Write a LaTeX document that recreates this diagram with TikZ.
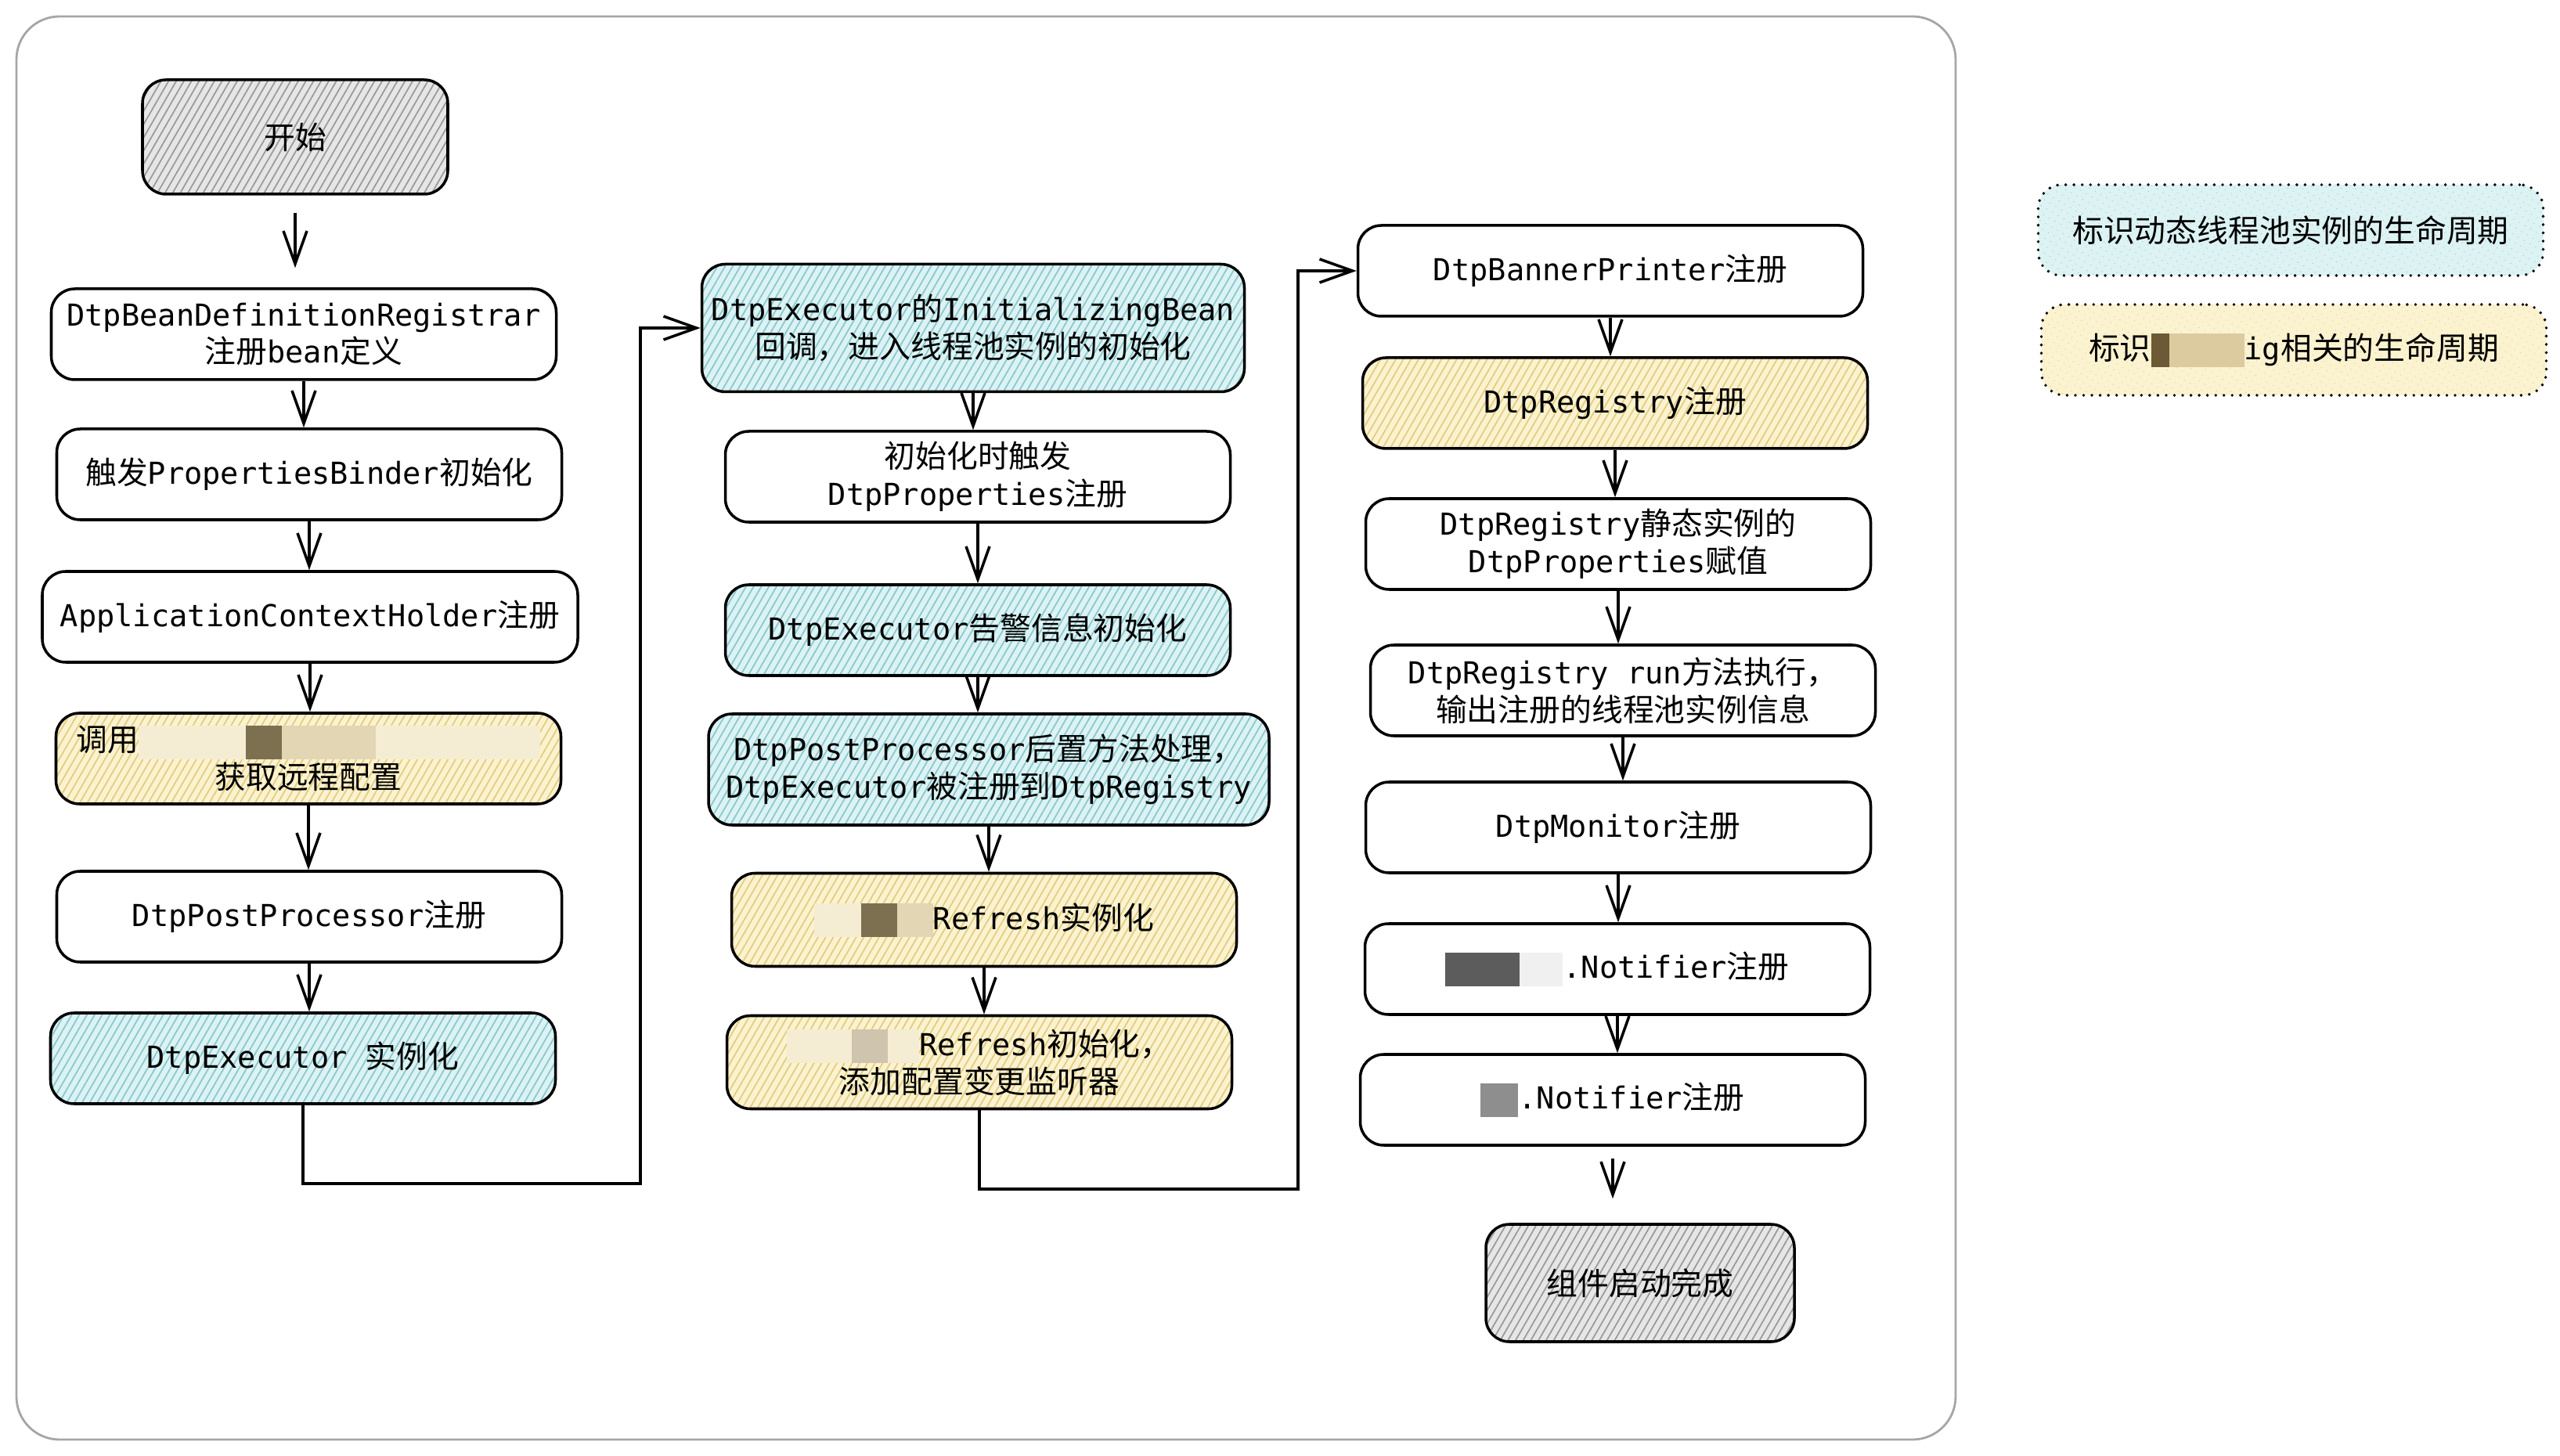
\documentclass[tikz,border=0pt]{standalone}
\usepackage{fontspec}
\setmainfont{DejaVu Sans Mono}
\newfontfamily\zhfont[Scale=1.03]{Noto Sans CJK SC}
\newcommand\zh[1]{{\zhfont #1}}
\newcommand\blotch[2]{{\color{#1}\rule[-0.25em]{#2}{1.1em}}}
\usepackage{tikz}
\usetikzlibrary{positioning, arrows.meta, patterns.meta}
\definecolor{bluebg}{HTML}{DDF2F3}
\definecolor{blueln}{HTML}{86C9CF}
\definecolor{yelbg}{HTML}{FBF2D0}
\definecolor{yelln}{HTML}{E3CD7E}
\definecolor{greybg}{HTML}{E6E6E6}
\definecolor{greyln}{HTML}{9A9A9A}
\definecolor{blurpale}{HTML}{F5EDD3}
\definecolor{blurmid}{HTML}{E2D6B4}
\definecolor{blurdark}{HTML}{7C7050}
\definecolor{blurgrey}{HTML}{CFC4AE}
\definecolor{blurink}{HTML}{5C5C5C}
\definecolor{blurlight}{HTML}{F0F0F0}
\definecolor{blurstone}{HTML}{8E8E8E}
\definecolor{blurbrown}{HTML}{6B5A35}
\definecolor{blursand}{HTML}{DCCB9F}

\begin{document}
\begin{tikzpicture}[
  box/.style={draw, line width=1pt, rounded corners=0.3cm, align=center,
    minimum width=6.45cm, minimum height=1.16cm, inner sep=2pt,
    font=\fontsize{11pt}{13.6pt}\selectfont},
  bluebox/.style={box, preaction={fill=bluebg},
    pattern={Lines[angle=60,distance=2.4pt,line width=.5pt]}, pattern color=blueln},
  yellowbox/.style={box, preaction={fill=yelbg},
    pattern={Lines[angle=60,distance=2.4pt,line width=.5pt]}, pattern color=yelln},
  greybox/.style={box, preaction={fill=greybg},
    pattern={Lines[angle=60,distance=2.4pt,line width=.5pt]}, pattern color=greyln},
  legendbox/.style={box, line width=1.1pt, line cap=round, dash pattern=on 0pt off 3pt},
  flow/.style={line width=1pt, -{Straight Barb[length=0.42cm,width=0.3cm]}}
]
  \useasboundingbox (0,0) rectangle (32.7,-18.6);
  \draw[gray!70, line width=0.8pt, rounded corners=0.55cm] (0.21,-0.21) rectangle (24.98,-18.39);

  % first column
  \node[greybox, minimum width=3.9cm, minimum height=1.46cm] (start) at (3.77,-1.75) {\zh{开始}};
  \node[box] (reg) at (3.88,-4.27) {DtpBeanDefinitionRegistrar\\\zh{注册}bean\zh{定义}};
  \node[box] (binder) at (3.95,-6.06) {\zh{触发}PropertiesBinder\zh{初始化}};
  \node[box, minimum width=6.84cm] (holder) at (3.96,-7.88) {ApplicationContextHolder\zh{注册}};
  \node[yellowbox] (remote) at (3.94,-9.69)
    {\zh{调用}\blotch{blurpale}{1.37cm}\blotch{blurdark}{0.46cm}\blotch{blurmid}{1.2cm}\blotch{blurpale}{2.1cm}\\\zh{获取远程配置}};
  \node[box] (postreg) at (3.95,-11.71) {DtpPostProcessor\zh{注册}};
  \node[bluebox] (exec) at (3.87,-13.52) {DtpExecutor \zh{实例化}};

  % second column
  \node[bluebox, minimum width=6.93cm, minimum height=1.63cm] (init) at (12.43,-4.19)
    {DtpExecutor\zh{的}InitializingBean\\\zh{回调，进入线程池实例的初始化}};
  \node[box] (props) at (12.49,-6.09) {\zh{初始化时触发}\\DtpProperties\zh{注册}};
  \node[bluebox] (alarm) at (12.49,-8.05) {DtpExecutor\zh{告警信息初始化}};
  \node[bluebox, minimum width=7.16cm, minimum height=1.42cm] (postproc) at (12.63,-9.83)
    {DtpPostProcessor\zh{后置方法处理，}\\DtpExecutor\zh{被注册到}DtpRegistry};
  \node[yellowbox, minimum height=1.19cm] (refresh) at (12.57,-11.75)
    {\blotch{blurpale}{0.6cm}\blotch{blurdark}{0.46cm}\blotch{blurmid}{0.46cm}Refresh\zh{实例化}};
  \node[yellowbox, minimum height=1.19cm] (listen) at (12.51,-13.57)
    {\blotch{blurpale}{0.83cm}\blotch{blurgrey}{0.46cm}\blotch{blurpale}{0.4cm}Refresh\zh{初始化，}\\\zh{添加配置变更监听器}};

  % third column
  \node[box] (banner) at (20.57,-3.46) {DtpBannerPrinter\zh{注册}};
  \node[yellowbox] (dreg) at (20.63,-5.15) {DtpRegistry\zh{注册}};
  \node[box] (dstatic) at (20.67,-6.95) {DtpRegistry\zh{静态实例的}\\DtpProperties\zh{赋值}};
  \node[box] (drun) at (20.73,-8.82) {DtpRegistry run\zh{方法执行，}\\\zh{输出注册的线程池实例信息}};
  \node[box] (monitor) at (20.67,-10.57) {DtpMonitor\zh{注册}};
  \node[box] (notifa) at (20.66,-12.38) {\blotch{blurink}{0.95cm}\blotch{blurlight}{0.55cm}.Notifier\zh{注册}};
  \node[box] (notifb) at (20.60,-14.05) {\blotch{blurstone}{0.48cm}.Notifier\zh{注册}};
  \node[greybox, minimum width=3.94cm, minimum height=1.5cm] (done) at (20.95,-16.39) {\zh{组件启动完成}};

  % legend
  \node[legendbox, preaction={fill=bluebg}, pattern={Lines[angle=60,distance=2.4pt,line width=.5pt]},
    pattern color=blueln] (legA) at (29.26,-2.94) {\zh{标识动态线程池实例的生命周期}};
  \node[legendbox, preaction={fill=yelbg}, pattern={Lines[angle=60,distance=2.4pt,line width=.5pt]},
    pattern color=yelln] (legB) at (29.30,-4.47)
    {\zh{标识}\blotch{blurbrown}{0.23cm}\blotch{blursand}{0.96cm}ig\zh{相关的生命周期}};

  % connectors
  \draw[flow, shorten <=0.23cm, shorten >=0.25cm] (start.south) -- (start.south |- reg.north);
  \foreach \a/\b in {reg/binder, binder/holder, holder/remote, remote/postreg, postreg/exec,
    init/props, props/alarm, alarm/postproc, postproc/refresh, refresh/listen,
    banner/dreg, dreg/dstatic, dstatic/drun, drun/monitor, monitor/notifa, notifa/notifb}
    \draw[flow] (\a.south) -- (\a.south |- \b.north);
  \draw[flow, shorten <=0.15cm, shorten >=0.31cm] (notifb.south) -- (notifb.south |- done.north);

  \coordinate (turnA) at (8.18,-15.12);
  \coordinate (turnB) at (16.58,-15.19);
  \draw[flow] (exec.south) |- (turnA) |- (init.west);
  \draw[flow] (listen.south) |- (turnB) |- (banner.west);
\end{tikzpicture}
\end{document}
